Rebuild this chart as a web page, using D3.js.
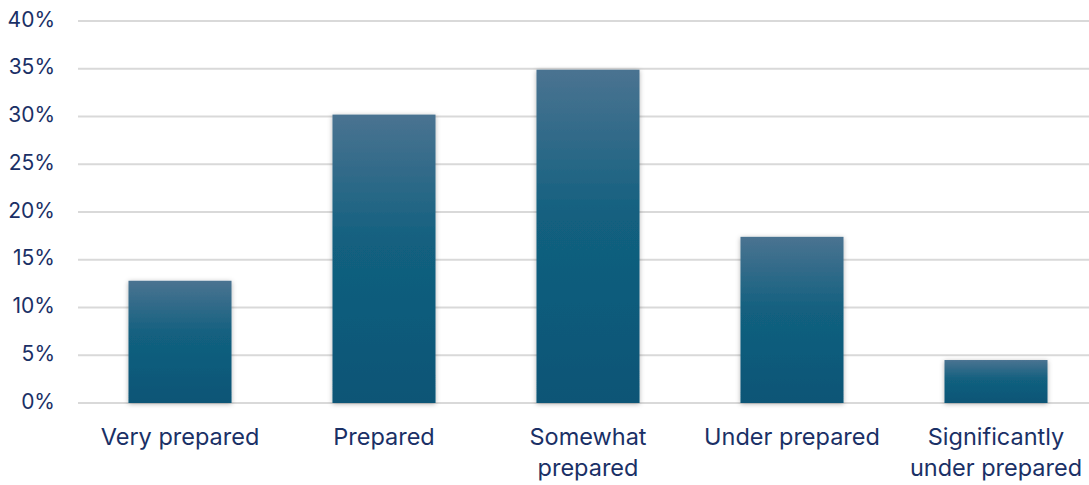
<!DOCTYPE html>
<html>
<head>
<meta charset="utf-8">
<script src="https://cdn.jsdelivr.net/npm/d3@7"></script>
<style>
  html, body { margin: 0; padding: 0; background: #fff; }
  text { font-family: Inter, "Open Sans", sans-serif; fill: #1a3066; }
</style>
</head>
<body>
<div id="root"></div>
<script>
'use strict';

var categories = ['Very prepared', 'Prepared', 'Somewhat prepared', 'Under prepared', 'Significantly under prepared'];
var labelLines = [['Very prepared'], ['Prepared'], ['Somewhat', 'prepared'], ['Under prepared'], ['Significantly', 'under prepared']];
var values = [12.8, 30.2, 34.9, 17.4, 4.5];
var ticks = [0, 5, 10, 15, 20, 25, 30, 35, 40];

var width = 1089;
var height = 485;
var margin = { top: 21, right: -9, bottom: 82, left: 78 };

var svg = d3.select('#root')
  .append('svg')
  .attr('width', width)
  .attr('height', height);

var defs = svg.append('defs');

var grad = defs.append('linearGradient')
  .attr('id', 'barGrad')
  .attr('x1', 0).attr('y1', 0)
  .attr('x2', 0).attr('y2', 1);
grad.append('stop').attr('offset', '0%').attr('stop-color', '#4a7391');
grad.append('stop').attr('offset', '45%').attr('stop-color', '#12607f');
grad.append('stop').attr('offset', '100%').attr('stop-color', '#0c5576');

var shadow = defs.append('filter')
  .attr('id', 'shadow')
  .attr('x', '-20%').attr('y', '-20%')
  .attr('width', '140%').attr('height', '140%');
shadow.append('feDropShadow')
  .attr('dx', 0).attr('dy', 1)
  .attr('stdDeviation', 2.5)
  .attr('flood-color', '#000')
  .attr('flood-opacity', 0.3);

var x = d3.scaleBand()
  .domain(categories)
  .range([margin.left, width - margin.right])
  .paddingInner(0.495)
  .paddingOuter(0.2475);

var y = d3.scaleLinear()
  .domain([0, 40])
  .range([height - margin.bottom, margin.top]);

// gridlines
svg.append('g')
  .selectAll('line')
  .data(ticks)
  .enter()
  .append('line')
  .attr('x1', margin.left)
  .attr('x2', width)
  .attr('y1', d => y(d))
  .attr('y2', d => y(d))
  .attr('stroke', '#d9d9d9')
  .attr('stroke-width', 2);

// y axis labels
svg.append('g')
  .selectAll('text')
  .data(ticks)
  .enter()
  .append('text')
  .attr('x', 55)
  .attr('y', d => y(d))
  .attr('text-anchor', 'end')
  .attr('dominant-baseline', 'middle')
  .style('font-size', '21px')
  .text(d => d + '%');

// bars
svg.append('g')
  .selectAll('rect')
  .data(values)
  .enter()
  .append('rect')
  .attr('x', (d, i) => x(categories[i]))
  .attr('y', d => y(d))
  .attr('width', x.bandwidth())
  .attr('height', d => y(0) - y(d))
  .attr('fill', 'url(#barGrad)')
  .attr('filter', 'url(#shadow)');

// category labels
var labels = svg.append('g')
  .selectAll('text')
  .data(categories)
  .enter()
  .append('text')
  .attr('text-anchor', 'middle')
  .attr('x', d => x(d) + x.bandwidth() / 2)
  .attr('y', 445)
  .style('font-size', '23.5px');

labels.selectAll('tspan')
  .data((d, i) => labelLines[i])
  .enter()
  .append('tspan')
  .attr('x', function() { return d3.select(this.parentNode).attr('x'); })
  .attr('dy', (d, j) => j === 0 ? 0 : 31)
  .text(d => d);
</script>
</body>
</html>
